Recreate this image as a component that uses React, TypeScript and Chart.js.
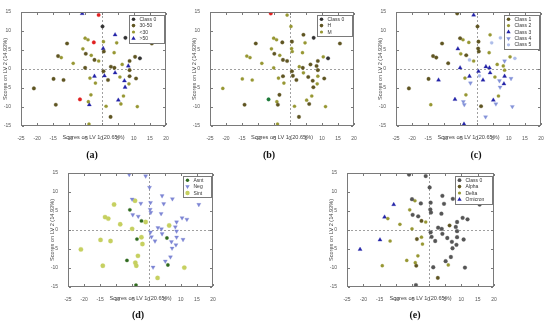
import React, { useEffect, useRef } from 'react';
import { Chart, registerables } from 'chart.js';

Chart.register(...registerables);

// Scores of the 60 samples (same points in every panel)
const LV1 = [
  -6.0, -0.9, 0.3, 4.2, 7.4, 15.6, -10.7, -5.1, -4.2, -2.4,
  0.6, 4.7, -5.8, 0.5, 0.7, -4.9, -3.2, 3.9, -13.5, -12.5,
  -8.8, -2.2, -0.9, 8.7, 10.4, 11.9, 6.4, 2.9, 4.0, 8.3,
  -5.1, 0.6, 4.2, 8.7, -14.9, -11.8, -3.6, -2.2, 0.9, 2.0,
  5.7, 7.1, 8.7, 10.7, -1.9, 8.5, 7.3, -21.0, -3.3, 6.8,
  5.2, -6.7, -4.1, -3.8, -14.2, 6.0, 1.4, 11.1, 2.8, -3.9,
];
const LV2 = [
  14.6, 14.2, 11.2, 9.0, 8.2, 6.7, 6.7, 8.1, 7.7, 7.0,
  7.2, 6.9, 5.3, 5.4, 4.6, 4.0, 3.6, 4.3, 3.4, 3.0,
  1.5, 2.4, 2.1, 2.1, 3.2, 2.8, 1.2, 0.6, 0.3, 0.8,
  0.3, -0.6, -1.0, -0.3, -2.6, -2.9, -2.4, -1.9, -1.8, -2.9,
  -2.1, -3.1, -1.9, -2.5, -3.7, -3.9, -4.8, -5.1, -6.8, -7.1,
  -8.2, -8.0, -8.6, -9.4, -9.4, -9.2, -9.8, -9.9, -12.6, -14.5,
];

// Class of each sample in each panel ('x' / 'y' = unlisted marker)
const AGE = [
  '>50', 'x', 'Class 0', '>50', 'Class 0', '30-50', '30-50', '<30', '<30', 'x',
  '<30', '<30', '<30', '>50', '30-50', '30-50', '<30', '<30', '30-50', '<30',
  '<30', '30-50', '<30', '30-50', '30-50', 'Class 0', '<30', '30-50', '30-50', '>50',
  '30-50', '30-50', '>50', '30-50', '30-50', '30-50', '<30', '>50', '>50', '30-50',
  '<30', '>50', '30-50', '30-50', '<30', '<30', '>50', '30-50', '<30', '<30',
  '>50', 'x', '<30', '>50', '30-50', '<30', '<30', '<30', '30-50', '<30',
];
const SEVERITY = [
  'x', 'M', 'M', 'H', 'Class 0', 'H', 'H', 'M', 'M', 'H',
  'H', 'M', 'M', 'M', 'M', 'H', 'M', 'M', 'M', 'M',
  'M', 'H', 'H', 'H', 'M', 'Class 0', 'H', 'M', 'H', 'H',
  'M', 'H', 'M', 'H', 'M', 'M', 'M', 'H', 'H', 'H',
  'H', 'H', 'M', 'H', 'M', 'M', 'H', 'M', 'H', 'M',
  'M', 'y', 'M', 'H', 'H', 'H', 'M', 'M', 'H', 'M',
];
const GROUP = [
  'Class 1', 'Class 3', 'Class 1', 'Class 2', 'Class 5', 'Class 5', 'Class 1', 'Class 1', 'Class 2', 'Class 2',
  'Class 1', 'Class 5', 'Class 3', 'Class 1', 'Class 1', 'Class 2', 'Class 1', 'Class 2', 'Class 1', 'Class 1',
  'Class 1', 'Class 5', 'Class 2', 'Class 4', 'Class 2', 'Class 5', 'Class 2', 'Class 3', 'Class 3', 'Class 2',
  'Class 3', 'Class 3', 'Class 3', 'Class 2', 'Class 1', 'Class 3', 'Class 2', 'Class 3', 'Class 5', 'Class 3',
  'Class 2', 'Class 4', 'Class 3', 'Class 4', 'Class 4', 'Class 3', 'Class 4', 'Class 1', 'Class 2', 'Class 2',
  'Class 3', 'Class 3', 'Class 4', 'Class 4', 'Class 2', 'Class 4', 'Class 1', 'Class 4', 'Class 4', 'Class 3',
];
const SYMPTOM = [
  'Neg', 'Neg', 'Neg', 'Neg', 'Neg', 'Neg', 'Sint', 'Neg', 'Sint', 'Neg',
  'Neg', 'Neg', 'Asnt', 'Neg', 'Neg', 'Neg', 'Neg', 'Neg', 'Sint', 'Sint',
  'Sint', 'Asnt', 'Sint', 'Neg', 'Neg', 'Neg', 'Sint', 'Neg', 'Neg', 'Neg',
  'Sint', 'Neg', 'Neg', 'Neg', 'Sint', 'Sint', 'Asnt', 'Sint', 'Neg', 'Neg',
  'Asnt', 'Neg', 'Neg', 'Neg', 'Sint', 'Neg', 'Neg', 'Sint', 'Sint', 'Neg',
  'Neg', 'Asnt', 'Sint', 'Sint', 'Sint', 'Asnt', 'Neg', 'Sint', 'Sint', 'Asnt',
];
const VARIANT = [
  'Class 0', 'Class 0', 'Class 0', 'Class 0', 'Class 0', 'Class 0', 'Omicron', 'Class 0', 'Delta', 'Class 0',
  'Class 0', 'Class 0', 'Delta', 'Class 0', 'Class 0', 'Class 0', 'Class 0', 'Class 0', 'Omicron', 'Delta',
  'Delta', 'Alpha', 'Delta', 'Class 0', 'Class 0', 'Class 0', 'Alpha', 'Class 0', 'Class 0', 'Class 0',
  'Delta', 'Class 0', 'Class 0', 'Class 0', 'Omicron', 'Delta', 'Alpha', 'Delta', 'Class 0', 'Class 0',
  'Class 0', 'Class 0', 'Class 0', 'Class 0', 'Delta', 'Class 0', 'Class 0', 'Omicron', 'Delta', 'Class 0',
  'Class 0', 'Delta', 'Delta', 'Alpha', 'Delta', 'Delta', 'Class 0', 'Class 0', 'Alpha', 'Class 0',
];

const X_TICK_MIN = -25;
const X_TICK_MAX = 20;
const Y_TICK_MIN = -15;
const Y_TICK_MAX = 15;
const X_TITLE = 'Scores on LV 1 (20.65%)';
const Y_TITLE = 'Scores on LV 2 (14.93%)';

type Cat = { name: string; color: string; style: string; r: number; legend: boolean };

const DARK = '#333333';
const OLIVE_D = '#5f5522';
const OLIVE_L = '#979732';
const BLUE = '#2323a8';

const CATS_A: Cat[] = [
  { name: 'Class 0', color: DARK, style: 'circle', r: 1.8, legend: true },
  { name: '30-50', color: OLIVE_D, style: 'circle', r: 1.8, legend: true },
  { name: '<30', color: OLIVE_L, style: 'circle', r: 1.6, legend: true },
  { name: '>50', color: BLUE, style: 'tri', r: 2.5, legend: true },
  { name: 'x', color: '#e02020', style: 'circle', r: 1.8, legend: false },
];
const CATS_B: Cat[] = [
  { name: 'Class 0', color: DARK, style: 'circle', r: 1.8, legend: true },
  { name: 'H', color: OLIVE_D, style: 'circle', r: 1.8, legend: true },
  { name: 'M', color: OLIVE_L, style: 'circle', r: 1.6, legend: true },
  { name: 'x', color: '#e02020', style: 'circle', r: 1.8, legend: false },
  { name: 'y', color: '#1e7a3a', style: 'circle', r: 1.8, legend: false },
];
const CATS_C: Cat[] = [
  { name: 'Class 1', color: OLIVE_D, style: 'circle', r: 1.8, legend: true },
  { name: 'Class 2', color: OLIVE_L, style: 'circle', r: 1.6, legend: true },
  { name: 'Class 3', color: BLUE, style: 'tri', r: 2.5, legend: true },
  { name: 'Class 4', color: '#8493d8', style: 'tridown', r: 2.5, legend: true },
  { name: 'Class 5', color: '#aebde9', style: 'circle', r: 1.6, legend: true },
];
const CATS_D: Cat[] = [
  { name: 'Asnt', color: '#2f6a1e', style: 'circle', r: 1.7, legend: true },
  { name: 'Neg', color: '#7d86d4', style: 'tridown', r: 2.5, legend: true },
  { name: 'Sint', color: '#c6d060', style: 'circle', r: 2.2, legend: true },
];
const CATS_E: Cat[] = [
  { name: 'Class 0', color: '#555555', style: 'circle', r: 1.9, legend: true },
  { name: 'Alpha', color: OLIVE_D, style: 'circle', r: 1.8, legend: true },
  { name: 'Delta', color: OLIVE_L, style: 'circle', r: 1.6, legend: true },
  { name: 'Omicron', color: BLUE, style: 'tri', r: 2.5, legend: true },
];

const FONT = '"Liberation Sans", Arial, Helvetica, sans-serif';
const FRAME = '#7a7a7a';

function drawMarker(ctx: CanvasRenderingContext2D, style: string, x: number, y: number, r: number, color: string) {
  ctx.fillStyle = color;
  ctx.beginPath();
  if (style === 'circle') {
    ctx.arc(x, y, r, 0, Math.PI * 2);
  } else if (style === 'tri') {
    ctx.moveTo(x, y - r);
    ctx.lineTo(x + r * 0.866, y + r * 0.5);
    ctx.lineTo(x - r * 0.866, y + r * 0.5);
    ctx.closePath();
  } else {
    ctx.moveTo(x, y + r);
    ctx.lineTo(x + r * 0.866, y - r * 0.5);
    ctx.lineTo(x - r * 0.866, y - r * 0.5);
    ctx.closePath();
  }
  ctx.fill();
}

const zeroPlugin = {
  id: 'zeroLines',
  beforeDatasetsDraw(chart: any) {
    const { ctx, scales, chartArea: a } = chart;
    const L = Math.round(a.left);
    const R = Math.round(a.right);
    const T = Math.round(a.top);
    const B = Math.round(a.bottom);
    ctx.save();
    ctx.strokeStyle = '#a0a0a0';
    ctx.lineWidth = 1;
    ctx.setLineDash([2, 2]);
    const x0 = Math.round(scales.x.getPixelForValue(0)) + 0.5;
    const y0 = Math.round(scales.y.getPixelForValue(0)) + 0.5;
    ctx.beginPath();
    ctx.moveTo(x0, T);
    ctx.lineTo(x0, B);
    ctx.moveTo(L, y0);
    ctx.lineTo(R, y0);
    ctx.stroke();
    ctx.setLineDash([]);
    ctx.fillStyle = FRAME;
    const xt = scales.x.ticks || [];
    const yt = scales.y.ticks || [];
    for (let i = 0; i < xt.length; i++) {
      const p = Math.round(scales.x.getPixelForValue(xt[i].value));
      ctx.fillRect(p, B - 3, 1, 2);
      ctx.fillRect(p, T + 1, 1, 2);
    }
    for (let i = 0; i < yt.length; i++) {
      const p = Math.round(scales.y.getPixelForValue(yt[i].value));
      ctx.fillRect(L + 1, p, 2, 1);
      ctx.fillRect(R - 3, p, 2, 1);
    }
    ctx.restore();
  },
};

const legendPlugin = {
  id: 'boxLegend',
  afterDatasetsDraw(chart: any, _args: any, opts: any) {
    const { ctx, chartArea: a } = chart;
    const items: Cat[] = (opts.items || []).filter((c: Cat) => c.legend);
    if (!items.length) return;
    ctx.save();
    ctx.font = `5px ${FONT}`;
    const tw = Math.max(...items.map((c) => ctx.measureText(c.name).width));
    const rowH = 6.4;
    const w = Math.round(11 + tw + 7);
    const h = Math.round(items.length * rowH + 2);
    const left = Math.round(a.right - 2 - w);
    const top = Math.round(a.top + 2.5);
    ctx.fillStyle = FRAME;
    ctx.fillRect(left, top, w + 1, h + 1);
    ctx.fillStyle = '#ffffff';
    ctx.fillRect(left + 1, top + 1, w - 1, h - 1);
    items.forEach((c, i) => {
      const cy = top + 1 + rowH * (i + 0.5);
      drawMarker(ctx, c.style, left + 4.5, cy, c.r, c.color);
      ctx.fillStyle = '#333333';
      ctx.textBaseline = 'middle';
      ctx.textAlign = 'left';
      ctx.fillText(c.name, left + 10.5, cy + 0.3);
    });
    ctx.restore();
  },
};

type PanelProps = {
  left: number;
  top: number;
  w: number;
  h: number;
  plot: { l: number; r: number; t: number; b: number };
  labels: string[];
  cats: Cat[];
  tag: string;
  tagX: number;
  tagY: number;
};

function Panel({ left, top, w, h, plot, labels, cats }: PanelProps) {
  const ref = useRef<HTMLCanvasElement>(null);
  useEffect(() => {
    if (!ref.current) return;
    const datasets = cats.map((c) => {
      const pts: { x: number; y: number }[] = [];
      labels.forEach((lab, i) => {
        if (lab === c.name) pts.push({ x: LV1[i], y: LV2[i] });
      });
      const pointStyle = c.style === 'circle' ? 'circle' : 'triangle';
      return {
        label: c.name,
        data: pts,
        pointStyle,
        rotation: c.style === 'tridown' ? 180 : 0,
        pointRadius: c.style === 'circle' ? c.r : c.r * 0.95,
        backgroundColor: c.color,
        borderColor: c.color,
        borderWidth: 0.3,
      };
    });
    const tickFont = { size: 5, family: FONT };
    const titleFont = { size: 5.6, family: FONT };
    const chart = new Chart(ref.current, {
      type: 'scatter',
      data: { datasets: datasets as any },
      plugins: [zeroPlugin, legendPlugin],
      options: {
        responsive: false,
        animation: false,
        devicePixelRatio: 1,
        layout: { padding: { left: 0, top: plot.t, right: w - plot.r, bottom: 0 } },
        plugins: {
          legend: { display: false },
          tooltip: { enabled: false },
          boxLegend: { items: cats },
        } as any,
        scales: {
          x: {
            type: 'linear',
            min: X_TICK_MIN,
            max: X_TICK_MAX,
            grid: { display: false },
            border: { display: false },
            ticks: { stepSize: 5, font: tickFont, color: '#555', padding: 2, maxRotation: 0, autoSkip: false },
            title: { display: true, text: X_TITLE, font: titleFont, color: '#444', padding: { top: 0, bottom: 4.5 } },
            afterFit: (s: any) => {
              s.height = h - plot.b;
            },
          },
          y: {
            type: 'linear',
            min: Y_TICK_MIN,
            max: Y_TICK_MAX,
            grid: { display: false },
            border: { display: false },
            ticks: { stepSize: 5, font: tickFont, color: '#555', padding: 2, autoSkip: false },
            title: { display: true, text: Y_TITLE, font: titleFont, color: '#444', padding: { top: 2, bottom: 0 } },
            afterFit: (s: any) => {
              s.width = plot.l;
            },
          },
        },
      } as any,
    });
    return () => chart.destroy();
  }, []);
  return (
    <>
      <canvas
        ref={ref}
        width={w}
        height={h}
        style={{ position: 'absolute', left, top, width: w, height: h }}
      />
      <div
        style={{
          position: 'absolute',
          left: left + plot.l,
          top: top + plot.t,
          width: plot.r - plot.l,
          height: plot.b - plot.t,
          border: `1px solid ${FRAME}`,
          boxSizing: 'border-box',
          pointerEvents: 'none',
        }}
      />
    </>
  );
}

const TAG_STYLE: React.CSSProperties = {
  position: 'absolute',
  transform: 'translate(-50%, -50%)',
  fontFamily: '"Liberation Serif", "DejaVu Serif", serif',
  fontWeight: 'bold',
  fontSize: 10,
  color: '#111',
  whiteSpace: 'nowrap',
};

const PANELS = [
  { left: 0, top: 0, w: 180, h: 145, plot: { l: 21, r: 166, t: 12, b: 126 }, labels: AGE, cats: CATS_A, tag: '(a)', tagX: 92, tagY: 154 },
  { left: 189, top: 0, w: 180, h: 145, plot: { l: 21, r: 165, t: 12, b: 126 }, labels: SEVERITY, cats: CATS_B, tag: '(b)', tagX: 269, tagY: 154 },
  { left: 375, top: 0, w: 175, h: 145, plot: { l: 21, r: 166, t: 12, b: 126 }, labels: GROUP, cats: CATS_C, tag: '(c)', tagX: 476, tagY: 154 },
  { left: 47, top: 161, w: 180, h: 145, plot: { l: 21, r: 166, t: 12, b: 126 }, labels: SYMPTOM, cats: CATS_D, tag: '(d)', tagX: 138, tagY: 314 },
  { left: 326, top: 161, w: 180, h: 145, plot: { l: 21, r: 168, t: 12, b: 126 }, labels: VARIANT, cats: CATS_E, tag: '(e)', tagX: 415, tagY: 314 },
];

export default function App() {
  return (
    <div style={{ position: 'absolute', left: 0, top: 0, width: 550, height: 323, background: '#fff', overflow: 'hidden' }}>
      {PANELS.map((p) => (
        <React.Fragment key={p.tag}>
          <Panel {...p} />
          <div style={{ ...TAG_STYLE, left: p.tagX, top: p.tagY }}>{p.tag}</div>
        </React.Fragment>
      ))}
    </div>
  );
}
